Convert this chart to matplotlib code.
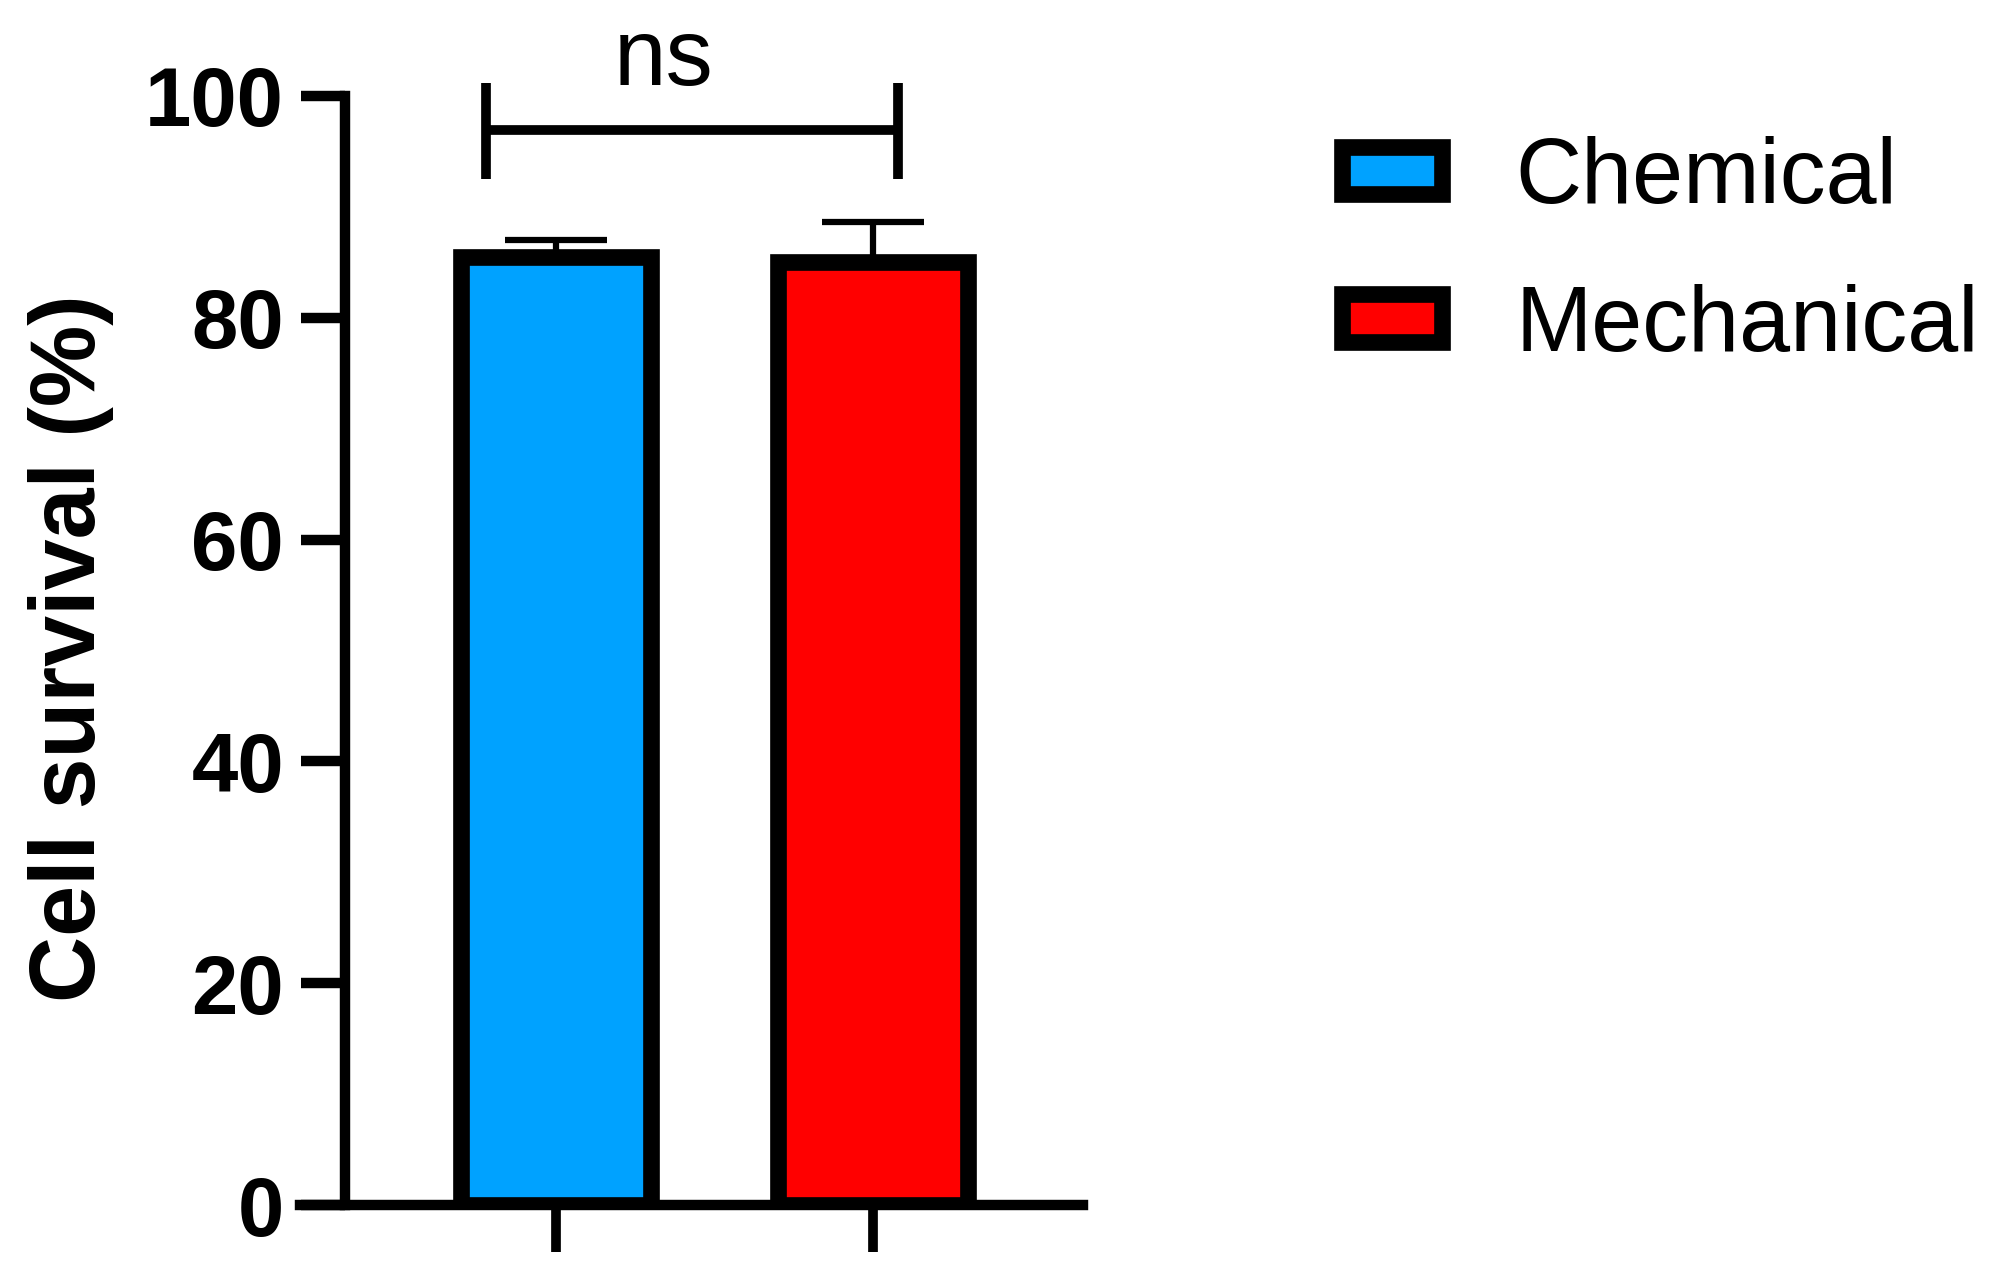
import matplotlib
matplotlib.use("Agg")
import matplotlib.pyplot as plt

groups = ["Chemical", "Mechanical"]
means = [85.5, 85.0]
sds = [1.5, 3.6]
colors = ["#00A2FF", "#FF0000"]
yticks = [0, 20, 40, 60, 80, 100]
sig_label = "ns"

plt.rcParams["font.family"] = ["Liberation Sans", "DejaVu Sans"]

fig = plt.figure(figsize=(20.03, 12.75), dpi=100)
ax = fig.add_axes([0.1498, 0.0549, 0.3909, 0.9394])

x = list(range(len(groups)))
for i in x:
    ax.bar(x[i], means[i], width=0.6, color=colors[i], edgecolor="black",
           linewidth=12, label=groups[i], zorder=3)
ax.errorbar(x, means, yerr=[[0] * len(sds), sds], fmt="none", ecolor="black",
            elinewidth=4.5, capsize=37, capthick=4.5, zorder=2)

# significance bracket
bx0, bx1 = -0.22, 1.08
ax.plot([bx0, bx0], [92.5, 101.2], color="black", lw=7, solid_capstyle="butt", clip_on=False)
ax.plot([bx1, bx1], [92.5, 101.2], color="black", lw=7, solid_capstyle="butt", clip_on=False)
ax.plot([bx0, bx1], [96.9, 96.9], color="black", lw=7, solid_capstyle="butt", clip_on=False)
ax.text(0.34, 101.0, sig_label, ha="center", va="baseline", fontsize=68)

ax.set_xlim(-0.806, 1.662)
ax.set_ylim(0, 108)
for s in ["top", "right"]:
    ax.spines[s].set_visible(False)
ax.spines["left"].set_position(("data", -0.664))
ax.spines["left"].set_bounds(0, 100)
ax.spines["left"].set_linewidth(7.5)
ax.spines["bottom"].set_linewidth(7.5)

ax.set_yticks(yticks)
ax.set_yticklabels([str(t) for t in yticks], fontsize=60, fontweight="bold")
ax.tick_params(axis="y", length=32, width=7.5, pad=12)
ax.set_xticks(x)
ax.set_xticklabels([])
ax.tick_params(axis="x", length=34, width=7)

ax.set_ylabel("Cell survival (%)", fontsize=66, fontweight="bold")
ax.yaxis.set_label_coords(-0.237, 0.465)

fig.legend(loc="upper left", bbox_to_anchor=(0.670, 0.893), frameon=False,
           fontsize=66, handlelength=1.09, handleheight=0.42,
           handletextpad=0.8, labelspacing=0.67, borderpad=0, borderaxespad=0)

fig.savefig("out.png", dpi=100)
